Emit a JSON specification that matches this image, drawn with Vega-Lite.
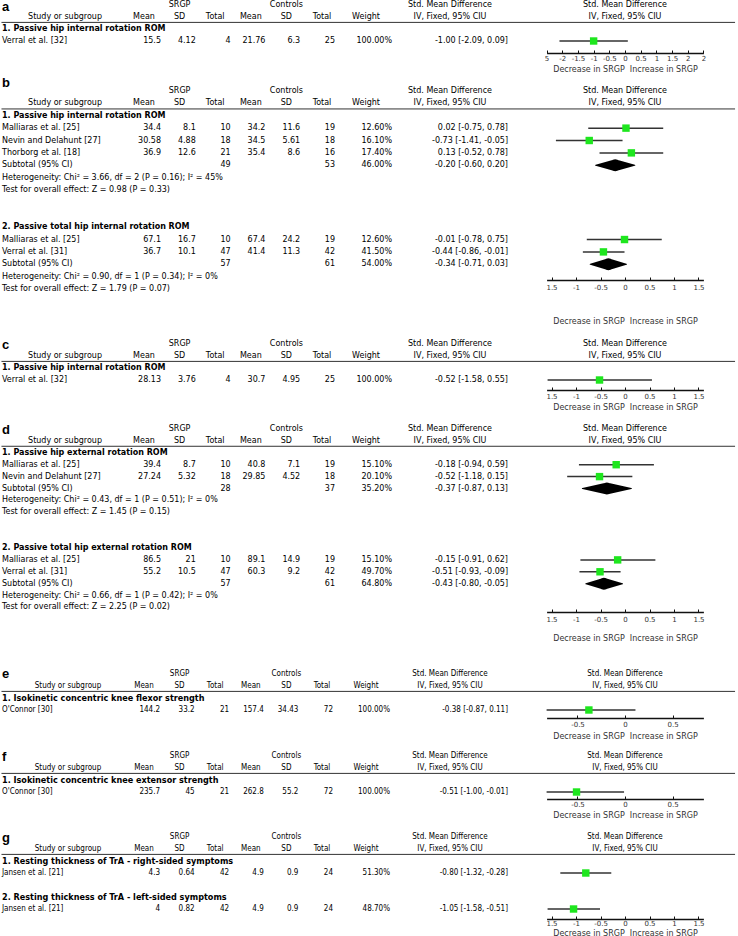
{
  "$schema": "https://vega.github.io/schema/vega-lite/v6.json",
  "padding": 0,
  "background": "white",
  "spacing": 0,
  "bounds": "flush",
  "config": {
    "view": {"stroke": null},
    "scale": {"pointPadding": 0},
    "style": {
      "t": {"font": "DejaVu Sans", "fontSize": 8, "baseline": "middle", "fill": "#222"},
      "tb": {"font": "DejaVu Sans", "fontSize": 8, "fontWeight": "bold", "baseline": "middle", "fill": "#111"},
      "c": {"font": "DejaVu Sans Condensed, Liberation Sans Narrow, DejaVu Sans", "fontSize": 8, "baseline": "middle", "fill": "#222"},
      "cb": {"font": "DejaVu Sans Condensed, Liberation Sans Narrow, DejaVu Sans", "fontSize": 9, "fontWeight": "bold", "baseline": "middle", "fill": "#111"},
      "letter": {"font": "Liberation Sans", "fontSize": 13, "fontWeight": "bold", "baseline": "alphabetic", "fill": "#000"}
    },
    "axis": {"grid": false, "domainColor": "#111", "domainWidth": 1.5, "tickColor": "#111", "tickWidth": 1, "tickSize": -3, "labelPadding": 6, "labelFont": "DejaVu Sans", "labelFontSize": 7, "labelColor": "#333", "titleFont": "DejaVu Sans", "titleFontSize": 8, "titleFontWeight": "normal", "titleColor": "#333", "labelFlush": false, "labelOverlap": false}
  },
  "datasets": {
    "hdr": [
      {"col": "study", "line": 1, "text": "Study or subgroup"},
      {"col": "m1", "line": 1, "text": "Mean"},
      {"col": "sd1", "line": 1, "text": "SD"},
      {"col": "n1", "line": 1, "text": "Total"},
      {"col": "m2", "line": 1, "text": "Mean"},
      {"col": "sd2", "line": 1, "text": "SD"},
      {"col": "n2", "line": 1, "text": "Total"},
      {"col": "sd1", "line": 0, "text": "SRGP"},
      {"col": "sd2", "line": 0, "text": "Controls"},
      {"col": "w", "line": 1, "text": "Weight"},
      {"col": "ci", "line": 0, "text": "Std. Mean Difference"},
      {"col": "ci", "line": 1, "text": "IV, Fixed, 95% CIU"},
      {"col": "forest", "line": 0, "text": "Std. Mean Difference"},
      {"col": "forest", "line": 1, "text": "IV, Fixed, 95% CIU"},
      {"col": "rule", "line": 1.45, "text": ""}
    ],
    "rows": [
      {"panel": "a", "line": 0.5, "kind": "letter", "label": "a"},
      {"panel": "a", "line": 2, "kind": "title", "label": "1. Passive hip internal rotation ROM"},
      {"panel": "a", "line": 3, "kind": "study", "label": "Verral et al. [32]", "m1": 15.5, "sd1": 4.12, "n1": 4, "m2": 21.76, "sd2": 6.3, "n2": 25, "w": "100.00%", "ci": "-1.00 [-2.09, 0.09]", "est": -1.00, "lo": -2.09, "hi": 0.09},

      {"panel": "b", "line": -0.32, "kind": "letter", "label": "b"},
      {"panel": "b", "line": 2, "kind": "title", "label": "1. Passive hip internal rotation ROM"},
      {"panel": "b", "line": 3, "kind": "study", "label": "Malliaras et al. [25]", "m1": 34.4, "sd1": 8.1, "n1": 10, "m2": 34.2, "sd2": 11.6, "n2": 19, "w": "12.60%", "ci": "0.02 [-0.75, 0.78]", "est": 0.02, "lo": -0.75, "hi": 0.78},
      {"panel": "b", "line": 4, "kind": "study", "label": "Nevin and Delahunt [27]", "m1": 30.58, "sd1": 4.88, "n1": 18, "m2": 34.5, "sd2": 5.61, "n2": 18, "w": "16.10%", "ci": "-0.73 [-1.41, -0.05]", "est": -0.73, "lo": -1.41, "hi": -0.05},
      {"panel": "b", "line": 5, "kind": "study", "label": "Thorborg et al. [18]", "m1": 36.9, "sd1": 12.6, "n1": 21, "m2": 35.4, "sd2": 8.6, "n2": 16, "w": "17.40%", "ci": "0.13 [-0.52, 0.78]", "est": 0.13, "lo": -0.52, "hi": 0.78},
      {"panel": "b", "line": 6, "kind": "subtotal", "label": "Subtotal (95% CI)", "n1": 49, "n2": 53, "w": "46.00%", "ci": "-0.20 [-0.60, 0.20]", "est": -0.20, "lo": -0.60, "hi": 0.20},
      {"panel": "b", "line": 7, "kind": "het", "label": "Heterogeneity: Chi² = 3.66, df = 2 (P = 0.16); I² = 45%"},
      {"panel": "b", "line": 8, "kind": "test", "label": "Test for overall effect: Z = 0.98 (P = 0.33)"},
      {"panel": "b", "line": 11, "kind": "title", "label": "2. Passive total hip internal rotation ROM"},
      {"panel": "b", "line": 12, "kind": "study", "label": "Malliaras et al. [25]", "m1": 67.1, "sd1": 16.7, "n1": 10, "m2": 67.4, "sd2": 24.2, "n2": 19, "w": "12.60%", "ci": "-0.01 [-0.78, 0.75]", "est": -0.01, "lo": -0.78, "hi": 0.75},
      {"panel": "b", "line": 13, "kind": "study", "label": "Verral et al. [31]", "m1": 36.7, "sd1": 10.1, "n1": 47, "m2": 41.4, "sd2": 11.3, "n2": 42, "w": "41.50%", "ci": "-0.44 [-0.86, -0.01]", "est": -0.44, "lo": -0.86, "hi": -0.01},
      {"panel": "b", "line": 14, "kind": "subtotal", "label": "Subtotal (95% CI)", "n1": 57, "n2": 61, "w": "54.00%", "ci": "-0.34 [-0.71, 0.03]", "est": -0.34, "lo": -0.71, "hi": 0.03},
      {"panel": "b", "line": 15, "kind": "het", "label": "Heterogeneity: Chi² = 0.90, df = 1 (P = 0.34); I² = 0%"},
      {"panel": "b", "line": 16, "kind": "test", "label": "Test for overall effect: Z = 1.79 (P = 0.07)"},

      {"panel": "c", "line": 0.375, "kind": "letter", "label": "c"},
      {"panel": "c", "line": 2, "kind": "title", "label": "1. Passive hip internal rotation ROM"},
      {"panel": "c", "line": 3, "kind": "study", "label": "Verral et al. [32]", "m1": 28.13, "sd1": 3.76, "n1": 4, "m2": 30.7, "sd2": 4.95, "n2": 25, "w": "100.00%", "ci": "-0.52 [-1.58, 0.55]", "est": -0.52, "lo": -1.58, "hi": 0.55},

      {"panel": "d", "line": 0.4, "kind": "letter", "label": "d"},
      {"panel": "d", "line": 2, "kind": "title", "label": "1. Passive hip external rotation ROM"},
      {"panel": "d", "line": 3, "kind": "study", "label": "Malliaras et al. [25]", "m1": 39.4, "sd1": 8.7, "n1": 10, "m2": 40.8, "sd2": 7.1, "n2": 19, "w": "15.10%", "ci": "-0.18 [-0.94, 0.59]", "est": -0.18, "lo": -0.94, "hi": 0.59},
      {"panel": "d", "line": 4, "kind": "study", "label": "Nevin and Delahunt [27]", "m1": 27.24, "sd1": 5.32, "n1": 18, "m2": 29.85, "sd2": 4.52, "n2": 18, "w": "20.10%", "ci": "-0.52 [-1.18, 0.15]", "est": -0.52, "lo": -1.18, "hi": 0.15},
      {"panel": "d", "line": 5, "kind": "subtotal", "label": "Subtotal (95% CI)", "n1": 28, "n2": 37, "w": "35.20%", "ci": "-0.37 [-0.87, 0.13]", "est": -0.37, "lo": -0.87, "hi": 0.13},
      {"panel": "d", "line": 6, "kind": "het", "label": "Heterogeneity: Chi² = 0.43, df = 1 (P = 0.51); I² = 0%"},
      {"panel": "d", "line": 7, "kind": "test", "label": "Test for overall effect: Z = 1.45 (P = 0.15)"},
      {"panel": "d", "line": 10, "kind": "title", "label": "2. Passive total hip external rotation ROM"},
      {"panel": "d", "line": 11, "kind": "study", "label": "Malliaras et al. [25]", "m1": 86.5, "sd1": 21, "n1": 10, "m2": 89.1, "sd2": 14.9, "n2": 19, "w": "15.10%", "ci": "-0.15 [-0.91, 0.62]", "est": -0.15, "lo": -0.91, "hi": 0.62},
      {"panel": "d", "line": 12, "kind": "study", "label": "Verral et al. [31]", "m1": 55.2, "sd1": 10.5, "n1": 47, "m2": 60.3, "sd2": 9.2, "n2": 42, "w": "49.70%", "ci": "-0.51 [-0.93, -0.09]", "est": -0.51, "lo": -0.93, "hi": -0.09},
      {"panel": "d", "line": 13, "kind": "subtotal", "label": "Subtotal (95% CI)", "n1": 57, "n2": 61, "w": "64.80%", "ci": "-0.43 [-0.80, -0.05]", "est": -0.43, "lo": -0.80, "hi": -0.05},
      {"panel": "d", "line": 14, "kind": "het", "label": "Heterogeneity: Chi² = 0.66, df = 1 (P = 0.42); I² = 0%"},
      {"panel": "d", "line": 15, "kind": "test", "label": "Test for overall effect: Z = 2.25 (P = 0.02)"},

      {"panel": "e", "line": 0.375, "kind": "letter", "label": "e"},
      {"panel": "e", "line": 2, "kind": "title", "label": "1. Isokinetic concentric knee flexor strength"},
      {"panel": "e", "line": 3, "kind": "study", "label": "O'Connor [30]", "m1": 144.2, "sd1": 33.2, "n1": 21, "m2": 157.4, "sd2": 34.43, "n2": 72, "w": "100.00%", "ci": "-0.38 [-0.87, 0.11]", "est": -0.38, "lo": -0.87, "hi": 0.11},

      {"panel": "f", "line": 0.375, "kind": "letter", "label": "f"},
      {"panel": "f", "line": 2, "kind": "title", "label": "1. Isokinetic concentric knee extensor strength"},
      {"panel": "f", "line": 3, "kind": "study", "label": "O'Connor [30]", "m1": 235.7, "sd1": 45, "n1": 21, "m2": 262.8, "sd2": 55.2, "n2": 72, "w": "100.00%", "ci": "-0.51 [-1.00, -0.01]", "est": -0.51, "lo": -1.00, "hi": -0.01},

      {"panel": "g", "line": 0.375, "kind": "letter", "label": "g"},
      {"panel": "g", "line": 2, "kind": "title", "label": "1. Resting thickness of TrA - right-sided symptoms"},
      {"panel": "g", "line": 3, "kind": "study", "label": "Jansen et al. [21]", "m1": 4.3, "sd1": 0.64, "n1": 42, "m2": 4.9, "sd2": 0.9, "n2": 24, "w": "51.30%", "ci": "-0.80 [-1.32, -0.28]", "est": -0.80, "lo": -1.32, "hi": -0.28},
      {"panel": "g", "line": 5, "kind": "title", "label": "2. Resting thickness of TrA - left-sided symptoms"},
      {"panel": "g", "line": 6, "kind": "study", "label": "Jansen et al. [21]", "m1": 4, "sd1": 0.82, "n1": 42, "m2": 4.9, "sd2": 0.9, "n2": 24, "w": "48.70%", "ci": "-1.05 [-1.58, -0.51]", "est": -1.05, "lo": -1.58, "hi": -0.51}
    ]
  },
  "vconcat": [
    {
      "width": 738, "height": 52,
      "data": {"name": "rows"},
      "transform": [{"filter": "datum.panel === 'a'"}],
      "resolve": {"scale": {"x": "independent"}, "axis": {"x": "independent"}},
      "encoding": {"y": {"field": "line", "type": "quantitative", "axis": null, "scale": {"domain": [-0.333, 4.0], "reverse": true, "nice": false, "zero": false}}},
      "layer": [
        {"data": {"name": "hdr"}, "transform": [{"filter": "datum.col === 'rule'"}], "mark": {"type": "rule", "color": "#333", "strokeWidth": 1}, "encoding": {"x": {"datum": 0.002, "type": "quantitative", "axis": null, "scale": {"domain": [0, 1], "nice": false, "zero": false}}, "x2": {"datum": 0.996}}},
        {"encoding": {"x": {"datum": "L", "type": "nominal", "axis": null, "scale": {"type": "point", "domain": ["L"], "range": [2, 2]}}},
         "layer": [
           {"transform": [{"filter": "datum.kind === 'letter'"}], "mark": {"type": "text", "style": "letter", "align": "left"}, "encoding": {"text": {"field": "label"}}},
           {"transform": [{"filter": "datum.kind === 'title'"}], "mark": {"type": "text", "style": "tb", "align": "left"}, "encoding": {"text": {"field": "label"}}},
           {"transform": [{"filter": "datum.kind !== 'title' && datum.kind !== 'letter'"}], "mark": {"type": "text", "style": "t", "align": "left"}, "encoding": {"text": {"field": "label"}}}
         ]},
        {"data": {"name": "hdr"}, "transform": [{"filter": "datum.col === 'study'"}], "mark": {"type": "text", "style": "t", "align": "center"}, "encoding": {"x": {"field": "col", "type": "nominal", "axis": null, "scale": {"type": "point", "domain": ["study"], "range": [65, 65]}}, "text": {"field": "text"}}},
        {"data": {"name": "hdr"}, "transform": [{"filter": "indexof(['m1','sd1','n1','m2','sd2','n2'], datum.col) >= 0"}], "mark": {"type": "text", "style": "t", "align": "center"}, "encoding": {"x": {"field": "col", "type": "nominal", "axis": null, "scale": {"type": "point", "domain": ["m1", "sd1", "n1", "m2", "sd2", "n2"], "range": [144, 322]}}, "text": {"field": "text"}}},
        {"transform": [{"fold": ["m1", "sd1", "n1", "m2", "sd2", "n2"], "as": ["col", "val"]}, {"filter": "datum.val != null"}], "mark": {"type": "text", "style": "t", "align": "right"}, "encoding": {"x": {"field": "col", "type": "nominal", "axis": null, "scale": {"type": "point", "domain": ["m1", "sd1", "n1", "m2", "sd2", "n2"], "range": [161, 335]}}, "text": {"field": "val", "type": "nominal"}}},
        {"data": {"name": "hdr"}, "transform": [{"filter": "datum.col === 'w' || datum.col === 'ci'"}], "mark": {"type": "text", "style": "t", "align": "center"}, "encoding": {"x": {"field": "col", "type": "nominal", "axis": null, "scale": {"type": "point", "domain": ["w", "ci"], "range": [366, 450]}}, "text": {"field": "text"}}},
        {"transform": [{"fold": ["w", "ci"], "as": ["col", "val"]}, {"filter": "datum.val != null"}], "mark": {"type": "text", "style": "t", "align": "right"}, "encoding": {"x": {"field": "col", "type": "nominal", "axis": null, "scale": {"type": "point", "domain": ["w", "ci"], "range": [392, 508]}}, "text": {"field": "val", "type": "nominal"}}},
        {"layer": [
          {"data": {"values": [{}]}, "mark": {"type": "rule", "color": "#000", "strokeWidth": 1.5},
           "encoding": {"x": {"datum": 0, "type": "quantitative", "scale": {"domain": [-2.5, 2.5], "range": [546.6, 703.4], "nice": false, "zero": false, "clamp": true},
             "axis": {"values": [-2.5, -2, -1.5, -1, -0.5, 0, 0.5, 1, 1.5, 2, 2.5], "format": "~g", "labelExpr": "datum.value === -2.5 ? '5' : datum.value === 2.5 ? '2' : replace(datum.label, '\u2212', '-')", "title": "Decrease in SRGP\u00a0 Increase in SRGP", "labelPadding": 4.5, "titlePadding": 3.5}},
             "y": {"datum": 1.6}, "y2": {"datum": 4.0}}},
          {"transform": [{"filter": "datum.kind === 'study'"}], "mark": {"type": "rule", "color": "#333", "strokeWidth": 1.5}, "encoding": {"x": {"field": "lo", "type": "quantitative"}, "x2": {"field": "hi"}}},
          {"transform": [{"filter": "datum.kind === 'study'"}], "mark": {"type": "square", "filled": true, "color": "#1ee61e", "size": 55, "opacity": 1}, "encoding": {"x": {"field": "est", "type": "quantitative"}}},
          {"data": {"name": "hdr"}, "transform": [{"filter": "datum.col === 'forest'"}], "mark": {"type": "text", "style": "t", "align": "center"}, "encoding": {"x": {"datum": 0, "type": "quantitative"}, "text": {"field": "text"}}}
        ]}
      ]
    },
    {
      "width": 738, "height": 227,
      "data": {"name": "rows"},
      "transform": [{"filter": "datum.panel === 'b'"}],
      "resolve": {"scale": {"x": "independent"}, "axis": {"x": "independent"}},
      "encoding": {"y": {"field": "line", "type": "quantitative", "axis": null, "scale": {"domain": [-3.07, 15.27], "reverse": true, "nice": false, "zero": false}}},
      "layer": [
        {"data": {"name": "hdr"}, "transform": [{"filter": "datum.col === 'rule'"}], "mark": {"type": "rule", "color": "#333", "strokeWidth": 1}, "encoding": {"x": {"datum": 0.002, "type": "quantitative", "axis": null, "scale": {"domain": [0, 1], "nice": false, "zero": false}}, "x2": {"datum": 0.996}}},
        {"encoding": {"x": {"datum": "L", "type": "nominal", "axis": null, "scale": {"type": "point", "domain": ["L"], "range": [2, 2]}}},
         "layer": [
           {"transform": [{"filter": "datum.kind === 'letter'"}], "mark": {"type": "text", "style": "letter", "align": "left"}, "encoding": {"text": {"field": "label"}}},
           {"transform": [{"filter": "datum.kind === 'title'"}], "mark": {"type": "text", "style": "tb", "align": "left"}, "encoding": {"text": {"field": "label"}}},
           {"transform": [{"filter": "datum.kind !== 'title' && datum.kind !== 'letter'"}], "mark": {"type": "text", "style": "t", "align": "left"}, "encoding": {"text": {"field": "label"}}}
         ]},
        {"data": {"name": "hdr"}, "transform": [{"filter": "datum.col === 'study'"}], "mark": {"type": "text", "style": "t", "align": "center"}, "encoding": {"x": {"field": "col", "type": "nominal", "axis": null, "scale": {"type": "point", "domain": ["study"], "range": [65, 65]}}, "text": {"field": "text"}}},
        {"data": {"name": "hdr"}, "transform": [{"filter": "indexof(['m1','sd1','n1','m2','sd2','n2'], datum.col) >= 0"}], "mark": {"type": "text", "style": "t", "align": "center"}, "encoding": {"x": {"field": "col", "type": "nominal", "axis": null, "scale": {"type": "point", "domain": ["m1", "sd1", "n1", "m2", "sd2", "n2"], "range": [144, 322]}}, "text": {"field": "text"}}},
        {"transform": [{"fold": ["m1", "sd1", "n1", "m2", "sd2", "n2"], "as": ["col", "val"]}, {"filter": "datum.val != null"}], "mark": {"type": "text", "style": "t", "align": "right"}, "encoding": {"x": {"field": "col", "type": "nominal", "axis": null, "scale": {"type": "point", "domain": ["m1", "sd1", "n1", "m2", "sd2", "n2"], "range": [161, 335]}}, "text": {"field": "val", "type": "nominal"}}},
        {"data": {"name": "hdr"}, "transform": [{"filter": "datum.col === 'w' || datum.col === 'ci'"}], "mark": {"type": "text", "style": "t", "align": "center"}, "encoding": {"x": {"field": "col", "type": "nominal", "axis": null, "scale": {"type": "point", "domain": ["w", "ci"], "range": [366, 450]}}, "text": {"field": "text"}}},
        {"transform": [{"fold": ["w", "ci"], "as": ["col", "val"]}, {"filter": "datum.val != null"}], "mark": {"type": "text", "style": "t", "align": "right"}, "encoding": {"x": {"field": "col", "type": "nominal", "axis": null, "scale": {"type": "point", "domain": ["w", "ci"], "range": [392, 508]}}, "text": {"field": "val", "type": "nominal"}}},
        {"layer": [
          {"data": {"values": [{}]}, "mark": {"type": "rule", "color": "#000", "strokeWidth": 1.5},
           "encoding": {"x": {"datum": 0, "type": "quantitative", "scale": {"domain": [-1.6, 1.6], "range": [546.6, 703.4], "nice": false, "zero": false, "clamp": true},
             "axis": {"values": [-1.5, -1, -0.5, 0, 0.5, 1, 1.5], "format": "~g", "labelExpr": "datum.value === -1.5 ? '1.5' : replace(datum.label, '\u2212', '-')", "title": "Decrease in SRGP\u00a0 Increase in SRGP", "labelPadding": 6.5, "titlePadding": 26.5}},
             "y": {"datum": 1.6}, "y2": {"datum": 15.27}}},
          {"transform": [{"filter": "datum.kind === 'study'"}], "mark": {"type": "rule", "color": "#333", "strokeWidth": 1.5}, "encoding": {"x": {"field": "lo", "type": "quantitative"}, "x2": {"field": "hi"}}},
          {"transform": [{"filter": "datum.kind === 'study'"}], "mark": {"type": "square", "filled": true, "color": "#1ee61e", "size": 55, "opacity": 1}, "encoding": {"x": {"field": "est", "type": "quantitative"}}},
          {"transform": [{"filter": "datum.kind === 'subtotal'"}, {"fold": ["lo", "est", "hi"], "as": ["k", "v"]}], "mark": {"type": "trail", "color": "#000"}, "encoding": {"x": {"field": "v", "type": "quantitative"}, "detail": {"field": "line", "type": "nominal"}, "order": {"field": "v", "type": "quantitative"}, "size": {"condition": {"test": "datum.k === 'est'", "value": 12}, "value": 0}}},
          {"data": {"name": "hdr"}, "transform": [{"filter": "datum.col === 'forest'"}], "mark": {"type": "text", "style": "t", "align": "center"}, "encoding": {"x": {"datum": 0, "type": "quantitative"}, "text": {"field": "text"}}}
        ]}
      ]
    },
    {
      "width": 738, "height": 110,
      "data": {"name": "rows"},
      "transform": [{"filter": "datum.panel === 'c'"}],
      "resolve": {"scale": {"x": "independent"}, "axis": {"x": "independent"}},
      "encoding": {"y": {"field": "line", "type": "quantitative", "axis": null, "scale": {"domain": [-5.333, 3.833], "reverse": true, "nice": false, "zero": false}}},
      "layer": [
        {"data": {"name": "hdr"}, "transform": [{"filter": "datum.col === 'rule'"}], "mark": {"type": "rule", "color": "#333", "strokeWidth": 1}, "encoding": {"x": {"datum": 0.002, "type": "quantitative", "axis": null, "scale": {"domain": [0, 1], "nice": false, "zero": false}}, "x2": {"datum": 0.996}}},
        {"encoding": {"x": {"datum": "L", "type": "nominal", "axis": null, "scale": {"type": "point", "domain": ["L"], "range": [2, 2]}}},
         "layer": [
           {"transform": [{"filter": "datum.kind === 'letter'"}], "mark": {"type": "text", "style": "letter", "align": "left"}, "encoding": {"text": {"field": "label"}}},
           {"transform": [{"filter": "datum.kind === 'title'"}], "mark": {"type": "text", "style": "tb", "align": "left"}, "encoding": {"text": {"field": "label"}}},
           {"transform": [{"filter": "datum.kind !== 'title' && datum.kind !== 'letter'"}], "mark": {"type": "text", "style": "t", "align": "left"}, "encoding": {"text": {"field": "label"}}}
         ]},
        {"data": {"name": "hdr"}, "transform": [{"filter": "datum.col === 'study'"}], "mark": {"type": "text", "style": "t", "align": "center"}, "encoding": {"x": {"field": "col", "type": "nominal", "axis": null, "scale": {"type": "point", "domain": ["study"], "range": [65, 65]}}, "text": {"field": "text"}}},
        {"data": {"name": "hdr"}, "transform": [{"filter": "indexof(['m1','sd1','n1','m2','sd2','n2'], datum.col) >= 0"}], "mark": {"type": "text", "style": "t", "align": "center"}, "encoding": {"x": {"field": "col", "type": "nominal", "axis": null, "scale": {"type": "point", "domain": ["m1", "sd1", "n1", "m2", "sd2", "n2"], "range": [144, 322]}}, "text": {"field": "text"}}},
        {"transform": [{"fold": ["m1", "sd1", "n1", "m2", "sd2", "n2"], "as": ["col", "val"]}, {"filter": "datum.val != null"}], "mark": {"type": "text", "style": "t", "align": "right"}, "encoding": {"x": {"field": "col", "type": "nominal", "axis": null, "scale": {"type": "point", "domain": ["m1", "sd1", "n1", "m2", "sd2", "n2"], "range": [161, 335]}}, "text": {"field": "val", "type": "nominal"}}},
        {"data": {"name": "hdr"}, "transform": [{"filter": "datum.col === 'w' || datum.col === 'ci'"}], "mark": {"type": "text", "style": "t", "align": "center"}, "encoding": {"x": {"field": "col", "type": "nominal", "axis": null, "scale": {"type": "point", "domain": ["w", "ci"], "range": [366, 450]}}, "text": {"field": "text"}}},
        {"transform": [{"fold": ["w", "ci"], "as": ["col", "val"]}, {"filter": "datum.val != null"}], "mark": {"type": "text", "style": "t", "align": "right"}, "encoding": {"x": {"field": "col", "type": "nominal", "axis": null, "scale": {"type": "point", "domain": ["w", "ci"], "range": [392, 508]}}, "text": {"field": "val", "type": "nominal"}}},
        {"layer": [
          {"data": {"values": [{}]}, "mark": {"type": "rule", "color": "#000", "strokeWidth": 1.5},
           "encoding": {"x": {"datum": 0, "type": "quantitative", "scale": {"domain": [-1.6, 1.6], "range": [546.6, 703.4], "nice": false, "zero": false, "clamp": true},
             "axis": {"values": [-1.5, -1, -0.5, 0, 0.5, 1, 1.5], "format": "~g", "labelExpr": "datum.value === -1.5 ? '1.5' : replace(datum.label, '\u2212', '-')", "title": "Decrease in SRGP\u00a0 Increase in SRGP", "labelPadding": 5.5, "titlePadding": 3.5}},
             "y": {"datum": 1.6}, "y2": {"datum": 3.833}}},
          {"transform": [{"filter": "datum.kind === 'study'"}], "mark": {"type": "rule", "color": "#333", "strokeWidth": 1.5}, "encoding": {"x": {"field": "lo", "type": "quantitative"}, "x2": {"field": "hi"}}},
          {"transform": [{"filter": "datum.kind === 'study'"}], "mark": {"type": "square", "filled": true, "color": "#1ee61e", "size": 55, "opacity": 1}, "encoding": {"x": {"field": "est", "type": "quantitative"}}},
          {"data": {"name": "hdr"}, "transform": [{"filter": "datum.col === 'forest'"}], "mark": {"type": "text", "style": "t", "align": "center"}, "encoding": {"x": {"datum": 0, "type": "quantitative"}, "text": {"field": "text"}}}
        ]}
      ]
    },
    {
      "width": 738, "height": 222,
      "data": {"name": "rows"},
      "transform": [{"filter": "datum.panel === 'd'"}],
      "resolve": {"scale": {"x": "independent"}, "axis": {"x": "independent"}},
      "encoding": {"y": {"field": "line", "type": "quantitative", "axis": null, "scale": {"domain": [-3.28, 15.38], "reverse": true, "nice": false, "zero": false}}},
      "layer": [
        {"data": {"name": "hdr"}, "transform": [{"filter": "datum.col === 'rule'"}], "mark": {"type": "rule", "color": "#333", "strokeWidth": 1}, "encoding": {"x": {"datum": 0.002, "type": "quantitative", "axis": null, "scale": {"domain": [0, 1], "nice": false, "zero": false}}, "x2": {"datum": 0.996}}},
        {"encoding": {"x": {"datum": "L", "type": "nominal", "axis": null, "scale": {"type": "point", "domain": ["L"], "range": [2, 2]}}},
         "layer": [
           {"transform": [{"filter": "datum.kind === 'letter'"}], "mark": {"type": "text", "style": "letter", "align": "left"}, "encoding": {"text": {"field": "label"}}},
           {"transform": [{"filter": "datum.kind === 'title'"}], "mark": {"type": "text", "style": "tb", "align": "left"}, "encoding": {"text": {"field": "label"}}},
           {"transform": [{"filter": "datum.kind !== 'title' && datum.kind !== 'letter'"}], "mark": {"type": "text", "style": "t", "align": "left"}, "encoding": {"text": {"field": "label"}}}
         ]},
        {"data": {"name": "hdr"}, "transform": [{"filter": "datum.col === 'study'"}], "mark": {"type": "text", "style": "t", "align": "center"}, "encoding": {"x": {"field": "col", "type": "nominal", "axis": null, "scale": {"type": "point", "domain": ["study"], "range": [65, 65]}}, "text": {"field": "text"}}},
        {"data": {"name": "hdr"}, "transform": [{"filter": "indexof(['m1','sd1','n1','m2','sd2','n2'], datum.col) >= 0"}], "mark": {"type": "text", "style": "t", "align": "center"}, "encoding": {"x": {"field": "col", "type": "nominal", "axis": null, "scale": {"type": "point", "domain": ["m1", "sd1", "n1", "m2", "sd2", "n2"], "range": [144, 322]}}, "text": {"field": "text"}}},
        {"transform": [{"fold": ["m1", "sd1", "n1", "m2", "sd2", "n2"], "as": ["col", "val"]}, {"filter": "datum.val != null"}], "mark": {"type": "text", "style": "t", "align": "right"}, "encoding": {"x": {"field": "col", "type": "nominal", "axis": null, "scale": {"type": "point", "domain": ["m1", "sd1", "n1", "m2", "sd2", "n2"], "range": [161, 335]}}, "text": {"field": "val", "type": "nominal"}}},
        {"data": {"name": "hdr"}, "transform": [{"filter": "datum.col === 'w' || datum.col === 'ci'"}], "mark": {"type": "text", "style": "t", "align": "center"}, "encoding": {"x": {"field": "col", "type": "nominal", "axis": null, "scale": {"type": "point", "domain": ["w", "ci"], "range": [366, 450]}}, "text": {"field": "text"}}},
        {"transform": [{"fold": ["w", "ci"], "as": ["col", "val"]}, {"filter": "datum.val != null"}], "mark": {"type": "text", "style": "t", "align": "right"}, "encoding": {"x": {"field": "col", "type": "nominal", "axis": null, "scale": {"type": "point", "domain": ["w", "ci"], "range": [392, 508]}}, "text": {"field": "val", "type": "nominal"}}},
        {"layer": [
          {"data": {"values": [{}]}, "mark": {"type": "rule", "color": "#000", "strokeWidth": 1.5},
           "encoding": {"x": {"datum": 0, "type": "quantitative", "scale": {"domain": [-1.6, 1.6], "range": [546.6, 703.4], "nice": false, "zero": false, "clamp": true},
             "axis": {"values": [-1.5, -1, -0.5, 0, 0.5, 1, 1.5], "format": "~g", "labelExpr": "datum.value === -1.5 ? '1.5' : replace(datum.label, '\u2212', '-')", "title": "Decrease in SRGP\u00a0 Increase in SRGP", "labelPadding": 6.5, "titlePadding": 11.5}},
             "y": {"datum": 1.6}, "y2": {"datum": 15.38}}},
          {"transform": [{"filter": "datum.kind === 'study'"}], "mark": {"type": "rule", "color": "#333", "strokeWidth": 1.5}, "encoding": {"x": {"field": "lo", "type": "quantitative"}, "x2": {"field": "hi"}}},
          {"transform": [{"filter": "datum.kind === 'study'"}], "mark": {"type": "square", "filled": true, "color": "#1ee61e", "size": 55, "opacity": 1}, "encoding": {"x": {"field": "est", "type": "quantitative"}}},
          {"transform": [{"filter": "datum.kind === 'subtotal'"}, {"fold": ["lo", "est", "hi"], "as": ["k", "v"]}], "mark": {"type": "trail", "color": "#000"}, "encoding": {"x": {"field": "v", "type": "quantitative"}, "detail": {"field": "line", "type": "nominal"}, "order": {"field": "v", "type": "quantitative"}, "size": {"condition": {"test": "datum.k === 'est'", "value": 12}, "value": 0}}},
          {"data": {"name": "hdr"}, "transform": [{"filter": "datum.col === 'forest'"}], "mark": {"type": "text", "style": "t", "align": "center"}, "encoding": {"x": {"datum": 0, "type": "quantitative"}, "text": {"field": "text"}}}
        ]}
      ]
    },
    {
      "width": 738, "height": 106,
      "data": {"name": "rows"},
      "transform": [{"filter": "datum.panel === 'e'"}],
      "resolve": {"scale": {"x": "independent"}, "axis": {"x": "independent"}},
      "encoding": {"y": {"field": "line", "type": "quantitative", "axis": null, "scale": {"domain": [-5.167, 3.667], "reverse": true, "nice": false, "zero": false}}},
      "layer": [
        {"data": {"name": "hdr"}, "transform": [{"filter": "datum.col === 'rule'"}], "mark": {"type": "rule", "color": "#333", "strokeWidth": 1}, "encoding": {"x": {"datum": 0.002, "type": "quantitative", "axis": null, "scale": {"domain": [0, 1], "nice": false, "zero": false}}, "x2": {"datum": 0.996}}},
        {"encoding": {"x": {"datum": "L", "type": "nominal", "axis": null, "scale": {"type": "point", "domain": ["L"], "range": [2, 2]}}},
         "layer": [
           {"transform": [{"filter": "datum.kind === 'letter'"}], "mark": {"type": "text", "style": "letter", "align": "left"}, "encoding": {"text": {"field": "label"}}},
           {"transform": [{"filter": "datum.kind === 'title'"}], "mark": {"type": "text", "style": "cb", "align": "left"}, "encoding": {"text": {"field": "label"}}},
           {"transform": [{"filter": "datum.kind !== 'title' && datum.kind !== 'letter'"}], "mark": {"type": "text", "style": "c", "align": "left"}, "encoding": {"text": {"field": "label"}}}
         ]},
        {"data": {"name": "hdr"}, "transform": [{"filter": "datum.col === 'study'"}], "mark": {"type": "text", "style": "c", "align": "center"}, "encoding": {"x": {"field": "col", "type": "nominal", "axis": null, "scale": {"type": "point", "domain": ["study"], "range": [68, 68]}}, "text": {"field": "text"}}},
        {"data": {"name": "hdr"}, "transform": [{"filter": "indexof(['m1','sd1','n1','m2','sd2','n2'], datum.col) >= 0"}], "mark": {"type": "text", "style": "c", "align": "center"}, "encoding": {"x": {"field": "col", "type": "nominal", "axis": null, "scale": {"type": "point", "domain": ["m1", "sd1", "n1", "m2", "sd2", "n2"], "range": [144, 322]}}, "text": {"field": "text"}}},
        {"transform": [{"fold": ["m1", "sd1", "n1", "m2", "sd2", "n2"], "as": ["col", "val"]}, {"filter": "datum.val != null"}], "mark": {"type": "text", "style": "c", "align": "right"}, "encoding": {"x": {"field": "col", "type": "nominal", "axis": null, "scale": {"type": "point", "domain": ["m1", "sd1", "n1", "m2", "sd2", "n2"], "range": [160, 333]}}, "text": {"field": "val", "type": "nominal"}}},
        {"data": {"name": "hdr"}, "transform": [{"filter": "datum.col === 'w' || datum.col === 'ci'"}], "mark": {"type": "text", "style": "c", "align": "center"}, "encoding": {"x": {"field": "col", "type": "nominal", "axis": null, "scale": {"type": "point", "domain": ["w", "ci"], "range": [366, 450]}}, "text": {"field": "text"}}},
        {"transform": [{"fold": ["w", "ci"], "as": ["col", "val"]}, {"filter": "datum.val != null"}], "mark": {"type": "text", "style": "c", "align": "right"}, "encoding": {"x": {"field": "col", "type": "nominal", "axis": null, "scale": {"type": "point", "domain": ["w", "ci"], "range": [390, 508]}}, "text": {"field": "val", "type": "nominal"}}},
        {"layer": [
          {"data": {"values": [{}]}, "mark": {"type": "rule", "color": "#000", "strokeWidth": 1.5},
           "encoding": {"x": {"datum": 0, "type": "quantitative", "scale": {"domain": [-0.825, 0.825], "range": [546.6, 703.4], "nice": false, "zero": false, "clamp": true},
             "axis": {"values": [-0.5, 0, 0.5], "format": "~g", "labelExpr": "replace(datum.label, '\u2212', '-')", "title": "Decrease in SRGP\u00a0 Increase in SRGP", "labelPadding": 5.5, "titlePadding": 4.5}},
             "y": {"datum": 1.6}, "y2": {"datum": 3.667}}},
          {"transform": [{"filter": "datum.kind === 'study'"}], "mark": {"type": "rule", "color": "#333", "strokeWidth": 1.5}, "encoding": {"x": {"field": "lo", "type": "quantitative"}, "x2": {"field": "hi"}}},
          {"transform": [{"filter": "datum.kind === 'study'"}], "mark": {"type": "square", "filled": true, "color": "#1ee61e", "size": 55, "opacity": 1}, "encoding": {"x": {"field": "est", "type": "quantitative"}}},
          {"data": {"name": "hdr"}, "transform": [{"filter": "datum.col === 'forest'"}], "mark": {"type": "text", "style": "c", "align": "center"}, "encoding": {"x": {"datum": 0, "type": "quantitative"}, "text": {"field": "text"}}}
        ]}
      ]
    },
    {
      "width": 738, "height": 81,
      "data": {"name": "rows"},
      "transform": [{"filter": "datum.panel === 'f'"}],
      "resolve": {"scale": {"x": "independent"}, "axis": {"x": "independent"}},
      "encoding": {"y": {"field": "line", "type": "quantitative", "axis": null, "scale": {"domain": [-3.167, 3.583], "reverse": true, "nice": false, "zero": false}}},
      "layer": [
        {"data": {"name": "hdr"}, "transform": [{"filter": "datum.col === 'rule'"}], "mark": {"type": "rule", "color": "#333", "strokeWidth": 1}, "encoding": {"x": {"datum": 0.002, "type": "quantitative", "axis": null, "scale": {"domain": [0, 1], "nice": false, "zero": false}}, "x2": {"datum": 0.996}}},
        {"encoding": {"x": {"datum": "L", "type": "nominal", "axis": null, "scale": {"type": "point", "domain": ["L"], "range": [2, 2]}}},
         "layer": [
           {"transform": [{"filter": "datum.kind === 'letter'"}], "mark": {"type": "text", "style": "letter", "align": "left"}, "encoding": {"text": {"field": "label"}}},
           {"transform": [{"filter": "datum.kind === 'title'"}], "mark": {"type": "text", "style": "cb", "align": "left"}, "encoding": {"text": {"field": "label"}}},
           {"transform": [{"filter": "datum.kind !== 'title' && datum.kind !== 'letter'"}], "mark": {"type": "text", "style": "c", "align": "left"}, "encoding": {"text": {"field": "label"}}}
         ]},
        {"data": {"name": "hdr"}, "transform": [{"filter": "datum.col === 'study'"}], "mark": {"type": "text", "style": "c", "align": "center"}, "encoding": {"x": {"field": "col", "type": "nominal", "axis": null, "scale": {"type": "point", "domain": ["study"], "range": [68, 68]}}, "text": {"field": "text"}}},
        {"data": {"name": "hdr"}, "transform": [{"filter": "indexof(['m1','sd1','n1','m2','sd2','n2'], datum.col) >= 0"}], "mark": {"type": "text", "style": "c", "align": "center"}, "encoding": {"x": {"field": "col", "type": "nominal", "axis": null, "scale": {"type": "point", "domain": ["m1", "sd1", "n1", "m2", "sd2", "n2"], "range": [144, 322]}}, "text": {"field": "text"}}},
        {"transform": [{"fold": ["m1", "sd1", "n1", "m2", "sd2", "n2"], "as": ["col", "val"]}, {"filter": "datum.val != null"}], "mark": {"type": "text", "style": "c", "align": "right"}, "encoding": {"x": {"field": "col", "type": "nominal", "axis": null, "scale": {"type": "point", "domain": ["m1", "sd1", "n1", "m2", "sd2", "n2"], "range": [160, 333]}}, "text": {"field": "val", "type": "nominal"}}},
        {"data": {"name": "hdr"}, "transform": [{"filter": "datum.col === 'w' || datum.col === 'ci'"}], "mark": {"type": "text", "style": "c", "align": "center"}, "encoding": {"x": {"field": "col", "type": "nominal", "axis": null, "scale": {"type": "point", "domain": ["w", "ci"], "range": [366, 450]}}, "text": {"field": "text"}}},
        {"transform": [{"fold": ["w", "ci"], "as": ["col", "val"]}, {"filter": "datum.val != null"}], "mark": {"type": "text", "style": "c", "align": "right"}, "encoding": {"x": {"field": "col", "type": "nominal", "axis": null, "scale": {"type": "point", "domain": ["w", "ci"], "range": [390, 508]}}, "text": {"field": "val", "type": "nominal"}}},
        {"layer": [
          {"data": {"values": [{}]}, "mark": {"type": "rule", "color": "#000", "strokeWidth": 1.5},
           "encoding": {"x": {"datum": 0, "type": "quantitative", "scale": {"domain": [-0.825, 0.825], "range": [546.6, 703.4], "nice": false, "zero": false, "clamp": true},
             "axis": {"values": [-0.5, 0, 0.5], "format": "~g", "labelExpr": "replace(datum.label, '\u2212', '-')", "title": "Decrease in SRGP\u00a0 Increase in SRGP", "labelPadding": 4.5, "titlePadding": 3.5}},
             "y": {"datum": 1.6}, "y2": {"datum": 3.583}}},
          {"transform": [{"filter": "datum.kind === 'study'"}], "mark": {"type": "rule", "color": "#333", "strokeWidth": 1.5}, "encoding": {"x": {"field": "lo", "type": "quantitative"}, "x2": {"field": "hi"}}},
          {"transform": [{"filter": "datum.kind === 'study'"}], "mark": {"type": "square", "filled": true, "color": "#1ee61e", "size": 55, "opacity": 1}, "encoding": {"x": {"field": "est", "type": "quantitative"}}},
          {"data": {"name": "hdr"}, "transform": [{"filter": "datum.col === 'forest'"}], "mark": {"type": "text", "style": "c", "align": "center"}, "encoding": {"x": {"datum": 0, "type": "quantitative"}, "text": {"field": "text"}}}
        ]}
      ]
    },
    {
      "width": 738, "height": 120,
      "data": {"name": "rows"},
      "transform": [{"filter": "datum.panel === 'g'"}],
      "resolve": {"scale": {"x": "independent"}, "axis": {"x": "independent"}},
      "encoding": {"y": {"field": "line", "type": "quantitative", "axis": null, "scale": {"domain": [-3.167, 6.833], "reverse": true, "nice": false, "zero": false}}},
      "layer": [
        {"data": {"name": "hdr"}, "transform": [{"filter": "datum.col === 'rule'"}], "mark": {"type": "rule", "color": "#333", "strokeWidth": 1}, "encoding": {"x": {"datum": 0.002, "type": "quantitative", "axis": null, "scale": {"domain": [0, 1], "nice": false, "zero": false}}, "x2": {"datum": 0.996}}},
        {"encoding": {"x": {"datum": "L", "type": "nominal", "axis": null, "scale": {"type": "point", "domain": ["L"], "range": [2, 2]}}},
         "layer": [
           {"transform": [{"filter": "datum.kind === 'letter'"}], "mark": {"type": "text", "style": "letter", "align": "left"}, "encoding": {"text": {"field": "label"}}},
           {"transform": [{"filter": "datum.kind === 'title'"}], "mark": {"type": "text", "style": "cb", "align": "left"}, "encoding": {"text": {"field": "label"}}},
           {"transform": [{"filter": "datum.kind !== 'title' && datum.kind !== 'letter'"}], "mark": {"type": "text", "style": "c", "align": "left"}, "encoding": {"text": {"field": "label"}}}
         ]},
        {"data": {"name": "hdr"}, "transform": [{"filter": "datum.col === 'study'"}], "mark": {"type": "text", "style": "c", "align": "center"}, "encoding": {"x": {"field": "col", "type": "nominal", "axis": null, "scale": {"type": "point", "domain": ["study"], "range": [68, 68]}}, "text": {"field": "text"}}},
        {"data": {"name": "hdr"}, "transform": [{"filter": "indexof(['m1','sd1','n1','m2','sd2','n2'], datum.col) >= 0"}], "mark": {"type": "text", "style": "c", "align": "center"}, "encoding": {"x": {"field": "col", "type": "nominal", "axis": null, "scale": {"type": "point", "domain": ["m1", "sd1", "n1", "m2", "sd2", "n2"], "range": [144, 322]}}, "text": {"field": "text"}}},
        {"transform": [{"fold": ["m1", "sd1", "n1", "m2", "sd2", "n2"], "as": ["col", "val"]}, {"filter": "datum.val != null"}], "mark": {"type": "text", "style": "c", "align": "right"}, "encoding": {"x": {"field": "col", "type": "nominal", "axis": null, "scale": {"type": "point", "domain": ["m1", "sd1", "n1", "m2", "sd2", "n2"], "range": [160, 333]}}, "text": {"field": "val", "type": "nominal"}}},
        {"data": {"name": "hdr"}, "transform": [{"filter": "datum.col === 'w' || datum.col === 'ci'"}], "mark": {"type": "text", "style": "c", "align": "center"}, "encoding": {"x": {"field": "col", "type": "nominal", "axis": null, "scale": {"type": "point", "domain": ["w", "ci"], "range": [366, 450]}}, "text": {"field": "text"}}},
        {"transform": [{"fold": ["w", "ci"], "as": ["col", "val"]}, {"filter": "datum.val != null"}], "mark": {"type": "text", "style": "c", "align": "right"}, "encoding": {"x": {"field": "col", "type": "nominal", "axis": null, "scale": {"type": "point", "domain": ["w", "ci"], "range": [390, 508]}}, "text": {"field": "val", "type": "nominal"}}},
        {"layer": [
          {"data": {"values": [{}]}, "mark": {"type": "rule", "color": "#000", "strokeWidth": 1.5},
           "encoding": {"x": {"datum": 0, "type": "quantitative", "scale": {"domain": [-1.6, 1.6], "range": [546.6, 703.4], "nice": false, "zero": false, "clamp": true},
             "axis": {"values": [-1.5, -1, -0.5, 0, 0.5, 1, 1.5], "format": "~g", "labelExpr": "datum.value === -1.5 ? '1.5' : replace(datum.label, '\u2212', '-')", "title": "Decrease in SRGP\u00a0 Increase in SRGP", "labelPadding": 3.5, "titlePadding": 2.5}},
             "y": {"datum": 1.6}, "y2": {"datum": 6.833}}},
          {"transform": [{"filter": "datum.kind === 'study'"}], "mark": {"type": "rule", "color": "#333", "strokeWidth": 1.5}, "encoding": {"x": {"field": "lo", "type": "quantitative"}, "x2": {"field": "hi"}}},
          {"transform": [{"filter": "datum.kind === 'study'"}], "mark": {"type": "square", "filled": true, "color": "#1ee61e", "size": 55, "opacity": 1}, "encoding": {"x": {"field": "est", "type": "quantitative"}}},
          {"data": {"name": "hdr"}, "transform": [{"filter": "datum.col === 'forest'"}], "mark": {"type": "text", "style": "c", "align": "center"}, "encoding": {"x": {"datum": 0, "type": "quantitative"}, "text": {"field": "text"}}}
        ]}
      ]
    }
  ]
}
